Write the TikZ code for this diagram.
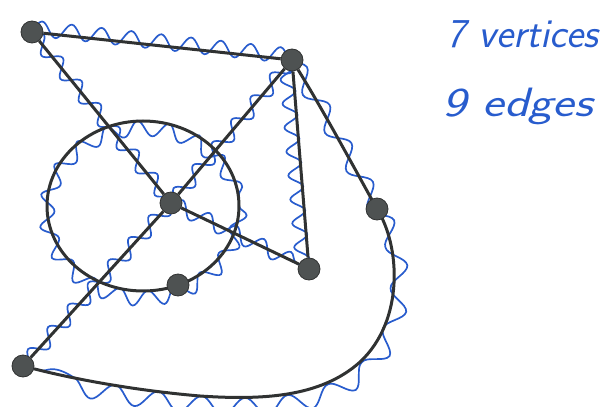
\documentclass[tikz,border=0pt]{standalone}
\usetikzlibrary{decorations.pathmorphing,backgrounds}
\definecolor{edgec}{RGB}{48,50,50}
\definecolor{vfill}{RGB}{78,82,82}
\definecolor{pen}{RGB}{40,92,205}
\tikzset{
  vertex/.style={circle,fill=vfill,draw=edgec,line width=0.4pt,minimum size=11pt,inner sep=0pt},
  edgeline/.style={draw=edgec,line width=1.5pt},
  squiggle/.style={draw=pen,line width=0.85pt,decorate,decoration={snake,segment length=15pt,amplitude=3.8pt}},
  hand/.style={text=pen,font=\fontsize{20.5}{20.5}\selectfont\sffamily\itshape,anchor=west,inner sep=0pt}
}
\begin{document}
\begin{tikzpicture}[x=0.5pt,y=-0.5pt]
\useasboundingbox (0,0) rectangle (614,406);
\node[vertex] (A) at (32,32) {};
\node[vertex] (B) at (292,60) {};
\node[vertex] (C) at (171,203) {};
\node[vertex] (D) at (309,269) {};
\node[vertex] (E) at (377,209) {};
\node[vertex] (F) at (178,285) {};
\node[vertex] (G) at (23,366) {};
\coordinate (O) at (143,206);
\begin{scope}[on background layer]
  % blue squiggles
  \path[squiggle] ([yshift=2pt]A.center) -- ([yshift=2pt]B.center);
  \path[squiggle] (A.center) -- (C.center);
  \path[squiggle] (B.center) -- (C.center);
  \path[squiggle] (C.center) -- (G.center);
  \path[squiggle] (C.center) -- (D.center);
  \path[squiggle,decoration={snake,segment length=12pt,amplitude=3.5pt}] ([xshift=-3pt]B.center) -- ([xshift=-3pt]D.center);
  \path[squiggle] (O) ellipse [x radius=96, y radius=85];
  \path[squiggle,decoration={snake,segment length=22pt,amplitude=4.5pt}] (B.center) .. controls (320,105) and (350,160) .. (E.center)
     .. controls (400,245) and (405,320) .. (360,362)
     .. controls (320,398) and (260,400) .. (200,396)
     .. controls (130,390) and (70,378) .. (G.center);
  % black edges
  \draw[edgeline] (A) -- (B);
  \draw[edgeline] (A) -- (C);
  \draw[edgeline] (B) -- (C);
  \draw[edgeline] (C) -- (G);
  \draw[edgeline] (C) -- (D);
  \draw[edgeline] (B) -- (D);
  \draw[edgeline] (O) ellipse [x radius=96, y radius=85];
  \draw[edgeline] (B) .. controls (320,105) and (350,160) .. (E.center)
     .. controls (400,245) and (405,320) .. (360,362)
     .. controls (320,398) and (260,400) .. (200,396)
     .. controls (130,390) and (70,378) .. (G);
\end{scope}
\node[hand] (t1) at (446,34) {7 vertices};
\node[hand,xscale=1.25] (t2) at (442,106) {9 edges};
\end{tikzpicture}
\end{document}
